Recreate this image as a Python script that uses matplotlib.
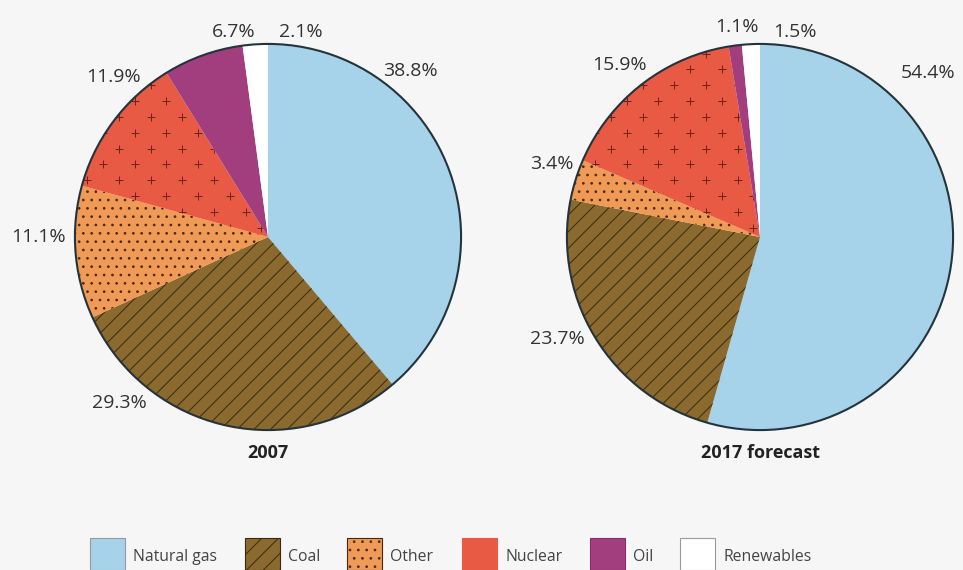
import numpy as np
import matplotlib; matplotlib.use("Agg")
import matplotlib.pyplot as plt
from matplotlib.patches import Circle, Rectangle

plt.rcParams['font.family'] = ['Open Sans', 'DejaVu Sans']
plt.rcParams['hatch.linewidth'] = 0.7

# data
SOURCES = ["Natural gas", "Coal", "Other", "Nuclear", "Oil", "Renewables"]
SHARE_2007 = [38.8, 29.3, 11.1, 11.9, 6.7, 2.1]
SHARE_2017 = [54.4, 23.7, 3.4, 15.9, 1.1, 1.5]
TITLES = ["2007", "2017 forecast"]

COLORS = ["#a6d3e9", "#8a6a2e", "#ef9a56", "#e85a44", "#a23e7e", "#ffffff"]
HATCH_EC = ["#a6d3e9", "#3a2a10", "#4a2810", "#e85a44", "#8a2f68", "#ffffff"]
HATCHES = [None, "//", "..", None, None, None]
BG = "#f6f6f6"
OUTLINE = "#24343c"

# label spots in pie units (radius = 1)
LABEL_POS = [
    [(0.74, 0.86), (-0.77, -0.86), (-1.19, 0.0), (-0.80, 0.83), (-0.18, 1.06), (0.17, 1.06)],
    [(0.87, 0.85), (-1.05, -0.53), (-1.08, 0.38), (-0.73, 0.89), (-0.12, 1.09), (0.18, 1.06)],
]

W, H = 963, 570
fig = plt.figure(figsize=(W/100, H/100), dpi=100, facecolor=BG)

def pie_axes(cx, cy, r):
    return fig.add_axes([(cx-r)/W, 1-(cy+r)/H, 2*r/W, 2*r/H])

centers = [(268, 237), (760, 237)]
R = 195
for k, vals in enumerate([SHARE_2007, SHARE_2017]):
    ax = pie_axes(*centers[k], R)
    ax.set_facecolor(BG)
    wedges, _ = ax.pie(vals, colors=COLORS, startangle=90, counterclock=False,
                       radius=1, normalize=True,
                       wedgeprops=dict(linewidth=0))
    for i, w in enumerate(wedges):
        w.set_edgecolor(HATCH_EC[i])
        if HATCHES[i]:
            w.set_hatch(HATCHES[i])
    # sparse staggered crosses on the nuclear slice
    dx, dy = 0.164, 0.082
    gx, gy = np.meshgrid(np.arange(-1.1, 1.1, dx), np.arange(-1.1, 1.1, dy))
    gx = gx + (np.round(gy / dy) % 2) * dx / 2
    pts = ax.scatter(gx.ravel(), gy.ravel(), marker="+", s=30, color="#6a2418",
                     linewidths=0.7, zorder=3)
    pts.set_clip_path(wedges[3])
    ax.add_patch(Circle((0, 0), 1, fill=False, edgecolor=OUTLINE, lw=1.5, zorder=4))
    ax.set_xlim(-1.01, 1.01); ax.set_ylim(-1.01, 1.01)
    ax.set_aspect("equal")
    ax.axis("off")
    for i, v in enumerate(vals):
        x, y = LABEL_POS[k][i]
        ax.text(x, y, f"{v:.1f}%", ha="center", va="center", fontsize=14,
                color="#333333")
    ax.text(0, -1.12, TITLES[k], ha="center", va="center", fontsize=13,
            fontweight="bold", color="#222222")

# legend drawn by hand so entries sit where the printed key has them
KEY_X = [90, 245, 347, 462, 590, 680]
for i, x in enumerate(KEY_X):
    ec = "#9a9a9a" if i in (0, 5) else HATCH_EC[i]
    fig.patches.append(Rectangle((x/W, 0), 35/W, 32/H, transform=fig.transFigure,
                                 facecolor=COLORS[i], edgecolor=ec, lw=0.8,
                                 hatch=HATCHES[i]))
    fig.text((x+43)/W, 1-557/H, SOURCES[i], ha="left", va="center", fontsize=11.3,
             color="#444444")

fig.savefig("out.png", dpi=100, facecolor=BG)
